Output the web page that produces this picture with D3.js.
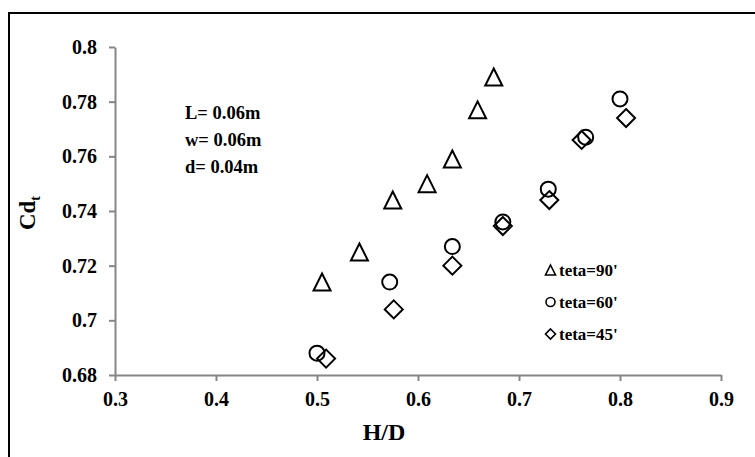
<!DOCTYPE html>
<html>
<head>
<meta charset="utf-8">
<script src="https://cdn.jsdelivr.net/npm/d3@7"></script>
<style>
  body { margin: 0; background: #fff; }
  svg text { font-family: "Liberation Serif", "Times New Roman", serif; font-weight: bold; fill: #000; }
</style>
</head>
<body>
<svg id="chart" width="755" height="457"></svg>
<script>
// H/D and Cd_t, one pair of arrays per angle
const hd90 = [0.505, 0.542, 0.575, 0.609, 0.634, 0.659, 0.675];
const cd90 = [0.714, 0.725, 0.744, 0.750, 0.759, 0.777, 0.789];
const hd60 = [0.500, 0.572, 0.634, 0.684, 0.729, 0.766, 0.800];
const cd60 = [0.688, 0.714, 0.727, 0.736, 0.748, 0.767, 0.781];
const hd45 = [0.509, 0.576, 0.634, 0.684, 0.730, 0.762, 0.806];
const cd45 = [0.686, 0.704, 0.720, 0.7345, 0.744, 0.766, 0.774];

const seriesNames = ["teta=90'", "teta=60'", "teta=45'"];
const xTicks = [0.3, 0.4, 0.5, 0.6, 0.7, 0.8, 0.9];
const yTicks = [0.68, 0.7, 0.72, 0.74, 0.76, 0.78, 0.8];
const notes = ['L= 0.06m', 'w= 0.06m', 'd= 0.04m'];

const svg = d3.select('#chart');
const axisGrey = '#868686';

// outer frame (only top and left edges fall inside the window)
svg.append('rect')
  .attr('x', 9).attr('y', 13)
  .attr('width', 760).attr('height', 460)
  .attr('fill', 'none').attr('stroke', '#000').attr('stroke-width', 2);

const x = d3.scaleLinear().domain([0.3, 0.9]).range([115, 721]);
const y = d3.scaleLinear().domain([0.68, 0.8]).range([375, 47]);

const xAxis = svg.append('g')
  .attr('transform', 'translate(0,' + y(0.68) + ')')
  .call(d3.axisBottom(x).tickValues(xTicks).tickFormat(d3.format('.1f')).tickSize(6).tickPadding(11).tickSizeOuter(0));

const yAxis = svg.append('g')
  .attr('transform', 'translate(' + x(0.3) + ',0)')
  .call(d3.axisLeft(y).tickValues(yTicks).tickFormat(d => String(+d.toFixed(2))).tickSize(6).tickPadding(12).tickSizeOuter(0));

[xAxis, yAxis].forEach(ax => {
  ax.select('.domain').attr('stroke', axisGrey).attr('stroke-width', 2);
  ax.selectAll('.tick line').attr('stroke', axisGrey).attr('stroke-width', 2);
  ax.selectAll('.tick text')
    .attr('font-family', '"Liberation Serif", serif')
    .attr('font-weight', 'bold')
    .attr('font-size', 20)
    .attr('fill', '#000');
});

// axis titles
svg.append('text')
  .attr('x', 384).attr('y', 440)
  .attr('text-anchor', 'middle')
  .attr('font-size', 24)
  .text('H/D');

const yTitle = svg.append('text')
  .attr('transform', 'translate(35,213) rotate(-90)')
  .attr('text-anchor', 'middle')
  .attr('font-size', 23);
yTitle.append('tspan').text('Cd');
yTitle.append('tspan').attr('font-size', 14).attr('dy', 5).text('t');

// geometry notes
svg.selectAll('.note')
  .data(notes)
  .enter().append('text')
  .attr('class', 'note')
  .attr('x', 185)
  .attr('y', (d, i) => 119 + i * 27)
  .attr('font-size', 18.5)
  .text(d => d);

// marker shapes
const shape = {
  tri: s => `M0,${-s / 2}L${s / 2},${s / 2}L${-s / 2},${s / 2}Z`,
  circ: s => d3.arc()({ innerRadius: 0, outerRadius: s / 2, startAngle: 0, endAngle: 2 * Math.PI }),
  dia: s => `M0,${-s / 2}L${s / 2},0L0,${s / 2}L${-s / 2},0Z`
};

const series = [
  { name: seriesNames[0], xs: hd90, ys: cd90, kind: 'tri', size: 17 },
  { name: seriesNames[1], xs: hd60, ys: cd60, kind: 'circ', size: 15 },
  { name: seriesNames[2], xs: hd45, ys: cd45, kind: 'dia', size: 18 }
];

series.forEach(s => {
  svg.append('g').selectAll('path')
    .data(s.xs.map((v, i) => [v, s.ys[i]]))
    .enter().append('path')
    .attr('d', shape[s.kind](s.size))
    .attr('transform', d => 'translate(' + x(d[0]) + ',' + y(d[1]) + ')')
    .attr('fill', 'none')
    .attr('stroke', '#000')
    .attr('stroke-width', 2);
});

// legend
const legend = svg.append('g');
series.forEach((s, i) => {
  const cy = 270 + i * 32;
  legend.append('path')
    .attr('d', shape[s.kind](s.kind === 'circ' ? 9 : 10))
    .attr('transform', 'translate(550.5,' + cy + ')')
    .attr('fill', 'none')
    .attr('stroke', '#000')
    .attr('stroke-width', 1.6);
  legend.append('text')
    .attr('x', 559)
    .attr('y', cy + 5.5)
    .attr('font-size', 17)
    .text(s.name);
});
</script>
</body>
</html>
